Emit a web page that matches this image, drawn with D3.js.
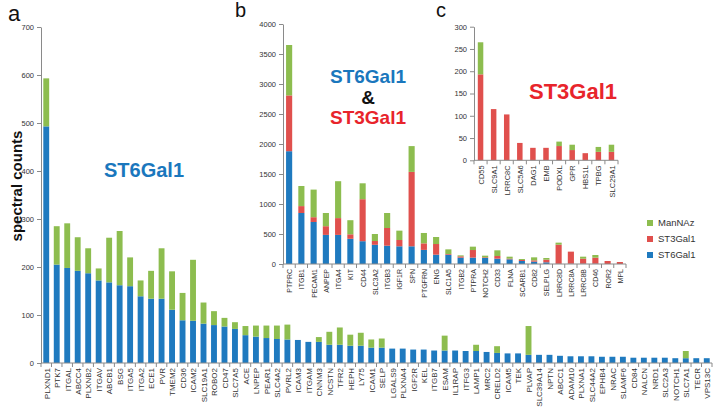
<!DOCTYPE html>
<html><head><meta charset="utf-8">
<script src="https://cdn.jsdelivr.net/npm/d3@7"></script>
<style>body{margin:0;background:#fff}svg{display:block;font-family:"Liberation Sans",Arial,sans-serif}</style>
</head><body><svg id="chart" width="713" height="410"></svg>
<script>
// ---------- Panel a (ST6Gal1) ----------
const aGenes = ["PLXND1","PTK7","ITGAL","ABCC4","PLXNB2","ITGAV","ABCB1","BSG","ITGA5","ITGA2","ECE1","PVR","TMEM2","CD36","ICAM2","SLC19A1","ROBO2","CD47","SLC7A5","ACE","LNPEP","PEAR1","SLC4A2","PVRL2","ICAM3","ITGAM","CNNM3","NCSTN","TFR2","HEPH","LY75","ICAM1","SELP","LGALS9","PLXNA4","IGF2R","KEL","ITGB7","ESAM","IL1RAP","ITFG3","LAMP1","MRC2","CRELD2","ICAM5","TEK","PLVAP","SLC39A14","NPTN","ABCC1","ADAM10","PLXNA1","SLC44A2","EPHB4","NRAC","SLAMF6","CD84","NALCN","NRD1","SLC2A3","NOTCH1","SLC7A1","TECR","VPS13C"];
const aST6 = [493,205,198,192,187,172,168,162,160,139,134,134,111,89,88,82,79,76,71,58,55,52,50,49,48,44,44,38,38,36,36,32,32,30,30,28,28,26,26,26,25,25,23,21,20,20,17,17,17,15,14,14,14,13,13,13,11,11,11,11,10,10,10,10];
const aManNAz = [100,80,93,70,52,25,93,113,60,33,58,105,80,57,127,44,29,18,14,19,23,26,28,31,0,0,10,27,36,23,27,17,19,0,0,0,0,0,31,0,0,13,0,14,0,0,60,0,0,0,0,0,0,0,0,0,0,0,0,0,0,15,0,0];
const aTicks = [0,100,200,300,400,500,600,700];

// ---------- Panel b (ST6Gal1 & ST3Gal1) ----------
const bGenes = ["PTPRC","ITGB1","PECAM1","ANPEP","ITGA4","KIT","CD44","SLC3A2","ITGB3","IGF1R","SPN","PTGFRN","ENG","SLC1A5","ITGB2","PTPRA","NOTCH2","CD33","FLNA","SCARB1","CD82","SELPLG","LRRC8D","LRRC8A","LRRC8B","CD46","ROR2","MPL"];
const bST6 = [1880,850,700,485,485,420,380,320,305,295,295,235,155,155,106,106,100,89,78,50,39,28,3,5,5,5,0,0];
const bST3 = [930,115,80,145,280,75,700,63,295,105,1240,109,178,12,22,127,11,44,11,17,22,44,319,201,84,101,50,33];
const bManNAz = [840,335,460,220,615,235,265,117,250,156,430,173,117,77,16,56,28,95,33,16,50,28,34,0,33,44,0,0];
const bTicks = [0,500,1000,1500,2000,2500,3000,3500,4000];

// ---------- Panel c (ST3Gal1) ----------
const cGenes = ["CD55","SLC9A1","LRRC8C","SLC5A6","DAG1","EMB","PODXL","GPR","HBS1L","TPBG","SLC29A1"];
const cST3 = [193,115,103,39,28,28,32,23,16,19,19];
const cManNAz = [72,0,0,0,0,0,10,12,0,11,16];
const cTicks = [0,50,100,150,200,250,300];

const seriesKeys = ["ST6Gal1","ST3Gal1","ManNAz"];
const legendOrder = ["ManNAz","ST3Gal1","ST6Gal1"];
const colors = {ST6Gal1:"#1f7abf", ST3Gal1:"#e0504d", ManNAz:"#8dbd4f"};
const axisColor = "#8a8a8a";
const textColor = "#333";

const svg = d3.select("#chart");

function panel(o){
  const g = svg.append("g");
  const x = d3.scaleBand().domain(o.genes).range([o.x0,o.x1]).paddingInner(o.pad).paddingOuter(o.pad/2);
  const y = d3.scaleLinear().domain([0,o.max]).range([o.y0,o.y1]);
  const rows = o.genes.map((gn,i)=>({gene:gn,
    ST6Gal1:o.st6?o.st6[i]:0, ST3Gal1:o.st3?o.st3[i]:0, ManNAz:o.man?o.man[i]:0}));
  const stacked = d3.stack().keys(seriesKeys)(rows);
  g.selectAll("g.s").data(stacked).join("g").attr("fill",d=>colors[d.key])
    .selectAll("rect").data(d=>d).join("rect")
    .attr("x",d=>x(d.data.gene)).attr("width",x.bandwidth())
    .attr("y",d=>y(d[1])).attr("height",d=>Math.max(0,y(d[0])-y(d[1])));
  // y axis
  const ya = g.append("g").attr("transform",`translate(${o.x0},0)`)
    .call(d3.axisLeft(y).tickValues(o.ticks).tickFormat(d3.format("d")).tickSize(4).tickSizeOuter(0).tickPadding(3));
  ya.select(".domain").attr("stroke",axisColor);
  ya.selectAll(".tick line").attr("stroke",axisColor);
  ya.selectAll("text").attr("fill",textColor).style("font-size",o.yfs+"px");
  // x axis line and between-category ticks
  const step = x.step(), gap = step - x.bandwidth();
  g.append("line").attr("x1",o.x0).attr("x2",o.x1).attr("y1",y(0)).attr("y2",y(0)).attr("stroke",axisColor);
  const bounds = o.genes.map(gn=>x(gn)-gap/2).concat([x(o.genes[o.genes.length-1])+x.bandwidth()+gap/2]);
  g.selectAll("line.xt").data(bounds).join("line").attr("class","xt")
    .attr("x1",d=>d).attr("x2",d=>d).attr("y1",y(0)).attr("y2",y(0)+4).attr("stroke",axisColor);
  g.selectAll("text.xl").data(o.genes).join("text").attr("class","xl")
    .attr("transform",d=>`translate(${x(d)+x.bandwidth()/2+0.5},${y(0)+5}) rotate(-90)`)
    .attr("text-anchor","end").attr("dy","0.35em")
    .style("font-size",o.xfs+"px").attr("fill",textColor).text(d=>d);
  return {x,y};
}

panel({genes:aGenes, st6:aST6, man:aManNAz, ticks:aTicks, max:700,
  x0:41, x1:712, y0:363, y1:27, pad:0.44, xfs:8, yfs:7.5});
panel({genes:bGenes, st6:bST6, st3:bST3, man:bManNAz, ticks:bTicks, max:4000,
  x0:283, x1:626, y0:264, y1:24, pad:0.5, xfs:7, yfs:7.5});
panel({genes:cGenes, st3:cST3, man:cManNAz, ticks:cTicks, max:300,
  x0:474, x1:618, y0:160.3, y1:26.7, pad:0.58, xfs:7.5, yfs:7.5});

// panel letters
const letters = [["a",8,21,22],["b",235,17,20],["c",436,17,20]];
svg.selectAll("text.lt").data(letters).join("text").attr("class","lt")
  .attr("x",d=>d[1]).attr("y",d=>d[2]).style("font-size",d=>d[3]+"px").attr("fill","#111").text(d=>d[0]);

// y-axis title
svg.append("text").attr("transform","translate(22,186) rotate(-90)").attr("text-anchor","middle")
  .style("font-size","15px").style("font-weight","bold").attr("fill","#111").text("spectral counts");

// panel titles
const titles = [
  ["ST6Gal1",144,177,20,"#1a77bd"],
  ["ST6Gal1",368,83,19,"#1a77bd"],
  ["&",368,104,19,"#111"],
  ["ST3Gal1",368,124,19,"#e8242b"],
  ["ST3Gal1",573,99,22,"#e8242b"]
];
svg.selectAll("text.tt").data(titles).join("text").attr("class","tt")
  .attr("x",d=>d[1]).attr("y",d=>d[2]).attr("text-anchor","middle")
  .style("font-size",d=>d[3]+"px").style("font-weight","bold").attr("fill",d=>d[4]).text(d=>d[0]);

// legend
const lg = svg.append("g").attr("transform","translate(647,223)");
const li = lg.selectAll("g").data(legendOrder).join("g").attr("transform",(d,i)=>`translate(0,${i*16})`);
li.append("rect").attr("x",0).attr("y",-3).attr("width",6).attr("height",6).attr("fill",d=>colors[d]);
li.append("text").attr("x",11).attr("dy","0.35em").style("font-size","9.5px").attr("fill",textColor).text(d=>d);
</script></body></html>
